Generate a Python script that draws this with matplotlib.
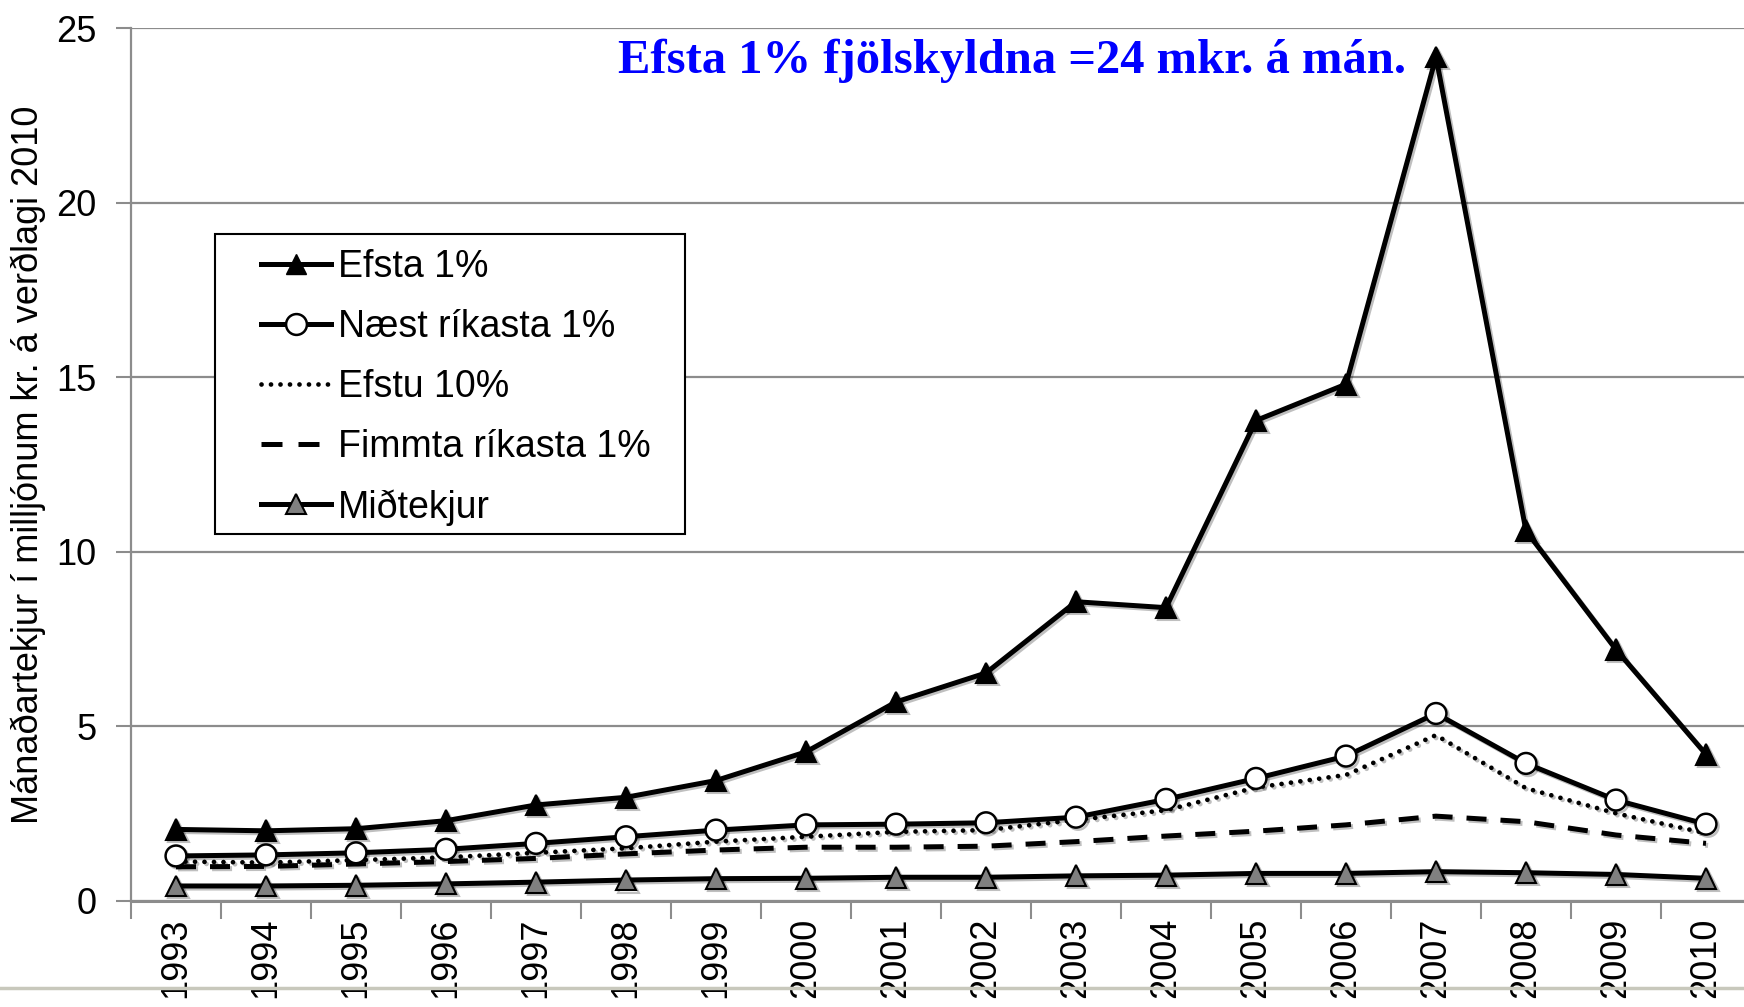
import numpy as np
import matplotlib
matplotlib.use("Agg")
import matplotlib.pyplot as plt
import matplotlib.patheffects as pe
from matplotlib.lines import Line2D
from matplotlib.patches import Rectangle

plt.rcParams['font.family'] = ['Liberation Sans', 'DejaVu Sans']

# %%
years = [str(y) for y in range(1993, 2011)]

efsta_1 = [2.05, 2.01, 2.07, 2.3, 2.75, 2.97, 3.45, 4.27, 5.7, 6.53,
           8.57, 8.4, 13.76, 14.8, 24.17, 10.6, 7.2, 4.2]
naest_rikasta = [1.29, 1.32, 1.38, 1.48, 1.65, 1.84, 2.03, 2.18, 2.2, 2.24,
                 2.4, 2.91, 3.51, 4.15, 5.37, 3.94, 2.89, 2.2]
efstu_10 = [1.13, 1.1, 1.17, 1.25, 1.38, 1.51, 1.7, 1.84, 1.98, 2.03,
            2.32, 2.6, 3.25, 3.61, 4.75, 3.23, 2.51, 1.94]
fimmta_rikasta = [0.98, 0.99, 1.06, 1.13, 1.22, 1.35, 1.46, 1.54, 1.54, 1.57,
                  1.7, 1.86, 2.0, 2.18, 2.43, 2.27, 1.89, 1.65]
midtekjur = [0.43, 0.43, 0.45, 0.49, 0.54, 0.6, 0.64, 0.65, 0.68, 0.68,
             0.72, 0.74, 0.79, 0.79, 0.84, 0.81, 0.76, 0.65]

labels = ['Efsta 1%', 'Næst ríkasta 1%', 'Efstu 10%', 'Fimmta ríkasta 1%', 'Miðtekjur']
y_label = 'Mánaðartekjur í milljónum kr. á verðlagi 2010'
title = 'Efsta 1% fjölskyldna =24 mkr. á mán.'

# %%
W, H = 1744, 1007
fig = plt.figure(figsize=(W / 100, H / 100), dpi=100)
ax = fig.add_axes([131 / W, 1 - 901 / H, 1620 / W, 873 / H])

x = np.arange(len(years))
shadow = [pe.SimpleLineShadow(offset=(1.5, -1.5), alpha=0.25, shadow_color='k'), pe.Normal()]
lw = 3.6
dots = (0, (0.01, 2.0))
dashes = (0, (4, 2.8))

ax.plot(x, midtekjur, color='k', lw=lw, marker='^', ms=15, mfc='#808080',
        mec='k', mew=1.5, zorder=5, path_effects=shadow)
ax.plot(x, fimmta_rikasta, color='k', lw=lw, ls=dashes, zorder=4,
        path_effects=shadow)
ax.plot(x, efstu_10, color='k', lw=3.4, ls=dots, dash_capstyle='round',
        zorder=4, path_effects=shadow)
ax.plot(x, naest_rikasta, color='k', lw=lw, marker='o', ms=15, mfc='white',
        mec='k', mew=1.8, zorder=6, path_effects=shadow)
ax.plot(x, efsta_1, color='k', lw=lw, marker='^', ms=15, mfc='k',
        mec='k', mew=1.5, zorder=7, path_effects=shadow)

ax.set_xlim(-0.5, len(years) - 0.5)
ax.set_ylim(0, 25)
ax.set_yticks([0, 5, 10, 15, 20, 25])
ax.yaxis.grid(True, color='#8c8c8c', lw=1.6)
ax.set_axisbelow(True)

ax.set_xticks(x)
ax.set_xticklabels(years, rotation=90, fontsize=26)
ax.set_xticks(np.arange(-0.5, len(years)), minor=True)
ax.tick_params(axis='x', which='major', length=0, pad=12)
ax.tick_params(axis='x', which='minor', length=13, width=1.5, color='#8c8c8c')
ax.tick_params(axis='y', labelsize=26, length=11, width=1.5, color='#8c8c8c', pad=14)

for s in ['top', 'right']:
    ax.spines[s].set_visible(False)
ax.spines['left'].set_color('#8c8c8c')
ax.spines['left'].set_linewidth(1.6)
ax.spines['bottom'].set_color('#8c8c8c')
ax.spines['bottom'].set_linewidth(2.2)

fig.text(28 / W, 1 - 465 / H, y_label, rotation=90, fontsize=26,
         ha='center', va='center')

# legend: frame drawn separately for the wide padding
fig.add_artist(Rectangle((215 / W, 1 - 534 / H), 470 / W, 300 / H,
                         transform=fig.transFigure, facecolor='white',
                         edgecolor='k', lw=1.5, zorder=9))
handles = [
    Line2D([], [], color='k', lw=lw, marker='^', ms=15, mfc='k', mec='k'),
    Line2D([], [], color='k', lw=lw, marker='o', ms=15, mfc='white', mec='k', mew=1.8),
    Line2D([], [], color='k', lw=3.4, ls=dots, dash_capstyle='round'),
    Line2D([], [], color='k', lw=lw, ls=(0, (4.2, 3.2, 4.2, 20))),
    Line2D([], [], color='k', lw=lw, marker='^', ms=15, mfc='#808080', mec='k', mew=1.5),
]
leg = fig.legend(handles, labels, loc='upper left',
                 bbox_to_anchor=(261 / W, 1 - 249 / H), bbox_transform=fig.transFigure,
                 borderaxespad=0, borderpad=0, fontsize=27, frameon=False,
                 handlelength=1.87, handletextpad=0.18, labelspacing=0.64, numpoints=1)
leg.set_zorder(10)

fig.text(1012 / W, 1 - 61 / H, title, color='#0000ff', fontsize=35,
         fontweight='bold', family='Liberation Serif', ha='center', va='center')

fig.add_artist(Line2D([0, 1], [1 - 988 / H] * 2, color='#c8c8bc', lw=2.5,
                      transform=fig.transFigure, zorder=20))

fig.savefig('out.png', dpi=100)
